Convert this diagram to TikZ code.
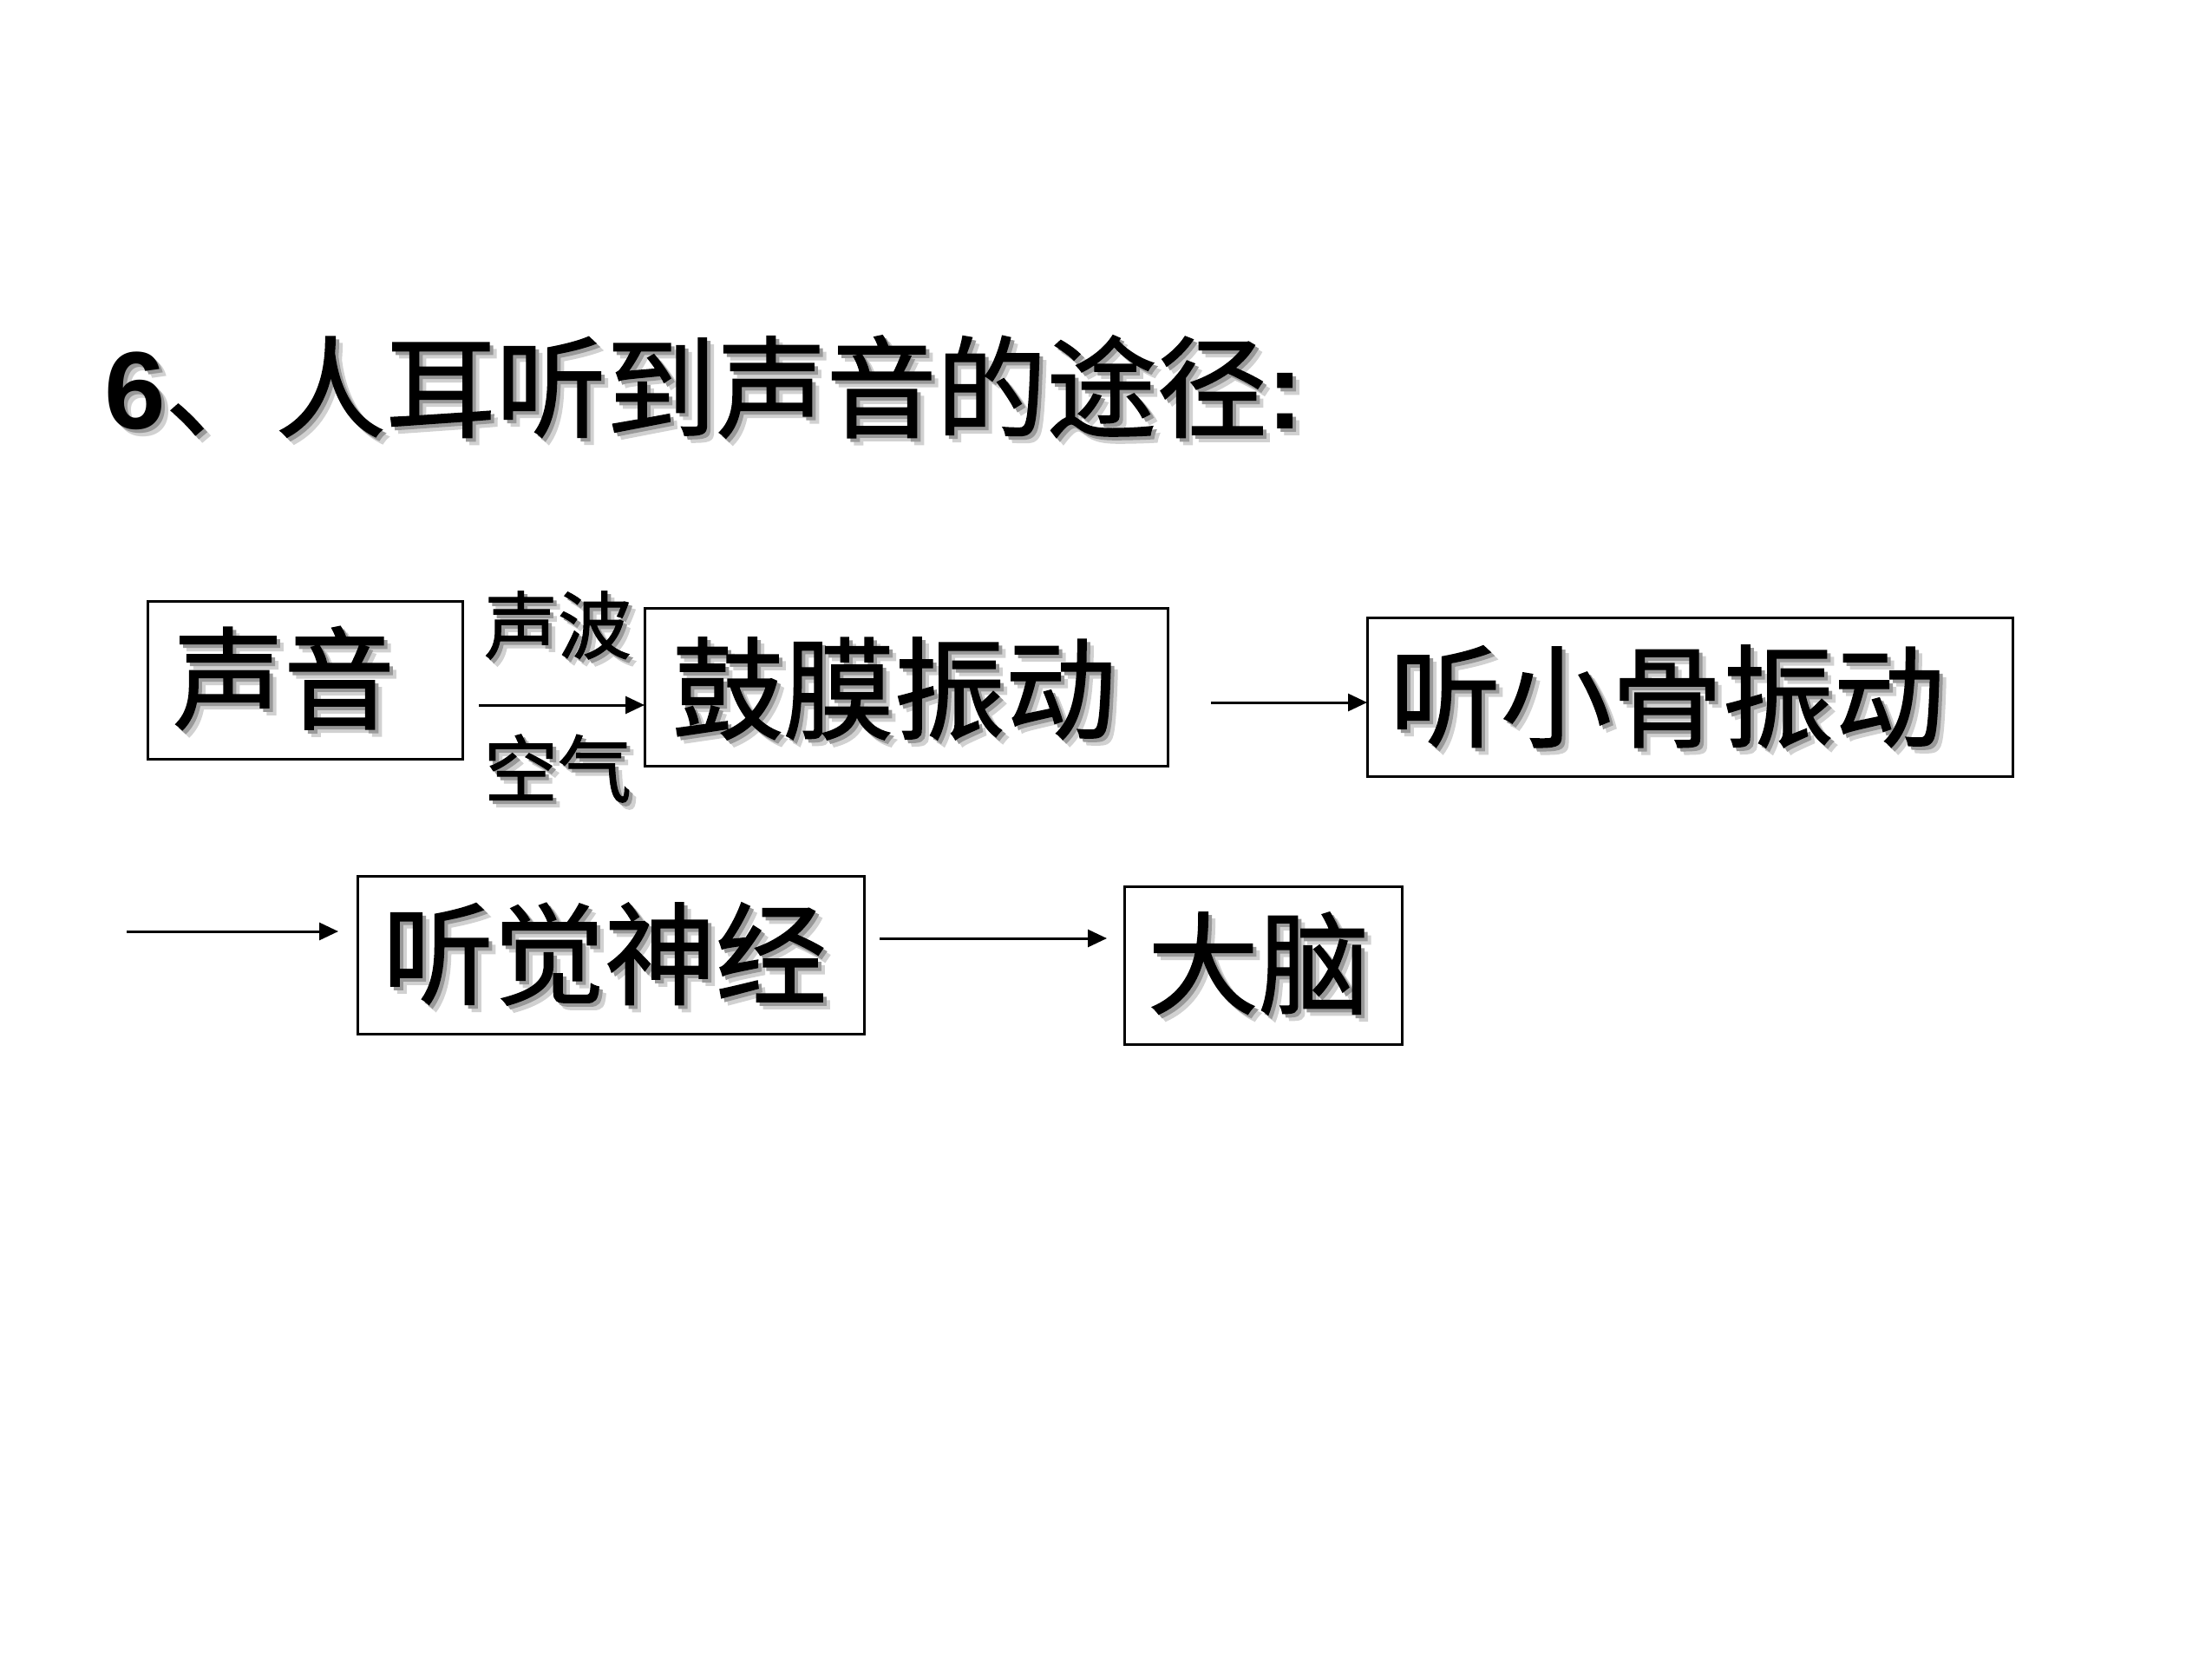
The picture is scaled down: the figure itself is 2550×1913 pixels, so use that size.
\documentclass[tikz,border=0pt]{standalone}
\usepackage{fontspec}
\usetikzlibrary{arrows.meta}
\newfontfamily\cjk{Noto Sans CJK SC}[FakeBold=1.2]
\newfontfamily\lat{Liberation Sans}
\newcommand\sh[1]{%
  \rlap{\smash{\raisebox{-8pt}{\hspace*{8pt}\textcolor{black!18}{#1}}}}%
  \rlap{\smash{\raisebox{-4pt}{\hspace*{4pt}\textcolor{black!40}{#1}}}}%
  #1}
\tikzset{
  txt/.style={inner sep=0pt, outer sep=0pt, anchor=center},
  boxnode/.style={draw=black, line width=3pt, inner sep=0pt, outer sep=0pt, fill=none},
  arr/.style={line width=3pt, -{Triangle[length=22pt,width=20pt]}},
}
\newcommand\bigf{\cjk\fontsize{128}{128}\selectfont}
\newcommand\smallf{\cjk\fontsize{85}{85}\selectfont}
\newcommand\titlef{\fontsize{127}{127}\selectfont}
\begin{document}
\begin{tikzpicture}[x=1pt,y=-1pt]
\useasboundingbox (0,0) rectangle (2550,1913);
% title
\node[txt, anchor=west] (title) at (120,446)
  {\titlef\sh{{\lat\bfseries 6}{\cjk 、人耳听到声音的途径}{\lat\bfseries :}}};
% boxes
\node[boxnode, minimum width=363pt, minimum height=182pt] (b1) at (351.5,784) {};
\node[boxnode, minimum width=603pt, minimum height=182pt] (b2) at (1044.5,792) {};
\node[boxnode, minimum width=744pt, minimum height=183pt] (b3) at (1948,803.5) {};
\node[boxnode, minimum width=584pt, minimum height=182pt] (b4) at (704,1101) {};
\node[boxnode, minimum width=320pt, minimum height=182pt] (b5) at (1456,1113) {};
% texts
\node[txt] (t1) at (327,782) {\bigf\sh{声音}};
\node[txt] (t2) at (1031,794) {\bigf\sh{鼓膜振动}};
\node[txt] (t3) at (1922,803) {\bigf\sh{听小骨振动}};
\node[txt] (t4) at (697,1100) {\bigf\sh{听觉神经}};
\node[txt] (t5) at (1451,1111) {\bigf\sh{大脑}};
\node[txt] (l1) at (643,721) {\smallf\sh{声波}};
\node[txt] (l2) at (643,886) {\smallf\sh{空气}};
% arrows
\coordinate (s1) at (552,813);
\coordinate (s2) at (1396,810);
\coordinate (s3) at (146,1074);
\coordinate (e3) at (390,1074);
\coordinate (s4) at (1014,1082);
\coordinate (e4) at (1276,1082);
\draw[arr] (s1) -- (s1 -| b2.west);
\draw[arr] (s2) -- (s2 -| b3.west);
\draw[arr] (s3) -- (e3);
\draw[arr] (s4) -- (e4);
\end{tikzpicture}
\end{document}
